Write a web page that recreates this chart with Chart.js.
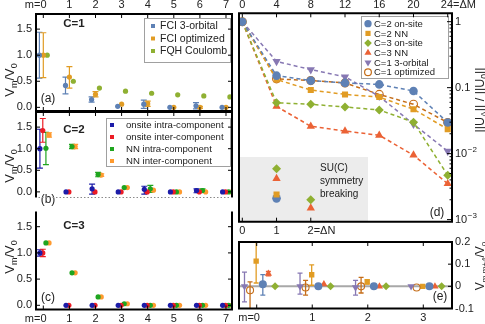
<!DOCTYPE html>
<html><head><meta charset="utf-8">
<script src="https://cdn.jsdelivr.net/npm/chart.js@4/dist/chart.umd.min.js"></script>
<style>
html,body{margin:0;padding:0;background:#fff;}
#wrap{position:relative;width:485px;height:324px;overflow:hidden;background:#fff;}
canvas{position:absolute;left:0;top:0;}
</style></head><body>
<div id="wrap">
<canvas id="cA" width="485" height="324"></canvas>
<canvas id="cB" width="485" height="324"></canvas>
<canvas id="cC" width="485" height="324"></canvas>
<canvas id="cD" width="485" height="324"></canvas>
<canvas id="cE" width="485" height="324"></canvas>
</div>
<script>
const FONT = "'Liberation Sans', Arial, Helvetica, sans-serif";

// ================= DATA =================
// left panels: pseudopotentials V_m/V_0 versus m
const mTicks = [0, 1, 2, 3, 4, 5, 6, 7];
const yTicksLeft = [0, 0.5, 1.0, 1.5];

// (a) C=1
const aFci3Orbital   = [1.00, 0.42, 0.15, 0.02, 0.06, 0.00, 0.03, 0.00];
const aFci3OrbitalLo = [0.56, 0.26, 0.10, null, -0.02, null, -0.03, null];
const aFci3OrbitalHi = [1.44, 0.58, 0.20, null, 0.14, null, 0.09, null];
const aFciOptimized   = [1.00, 0.58, 0.25, 0.06, 0.07, 0.00, 0.00, 0.00];
const aFciOptimizedLo = [0.57, 0.37, 0.20, null, 0.02, null, -0.02, null];
const aFciOptimizedHi = [1.43, 0.78, 0.30, null, 0.12, null, 0.02, null];
const aFqhCoulomb    = [1.00, 0.50, 0.37, 0.31, 0.27, 0.24, 0.22, 0.20];

// (b) C=2
const bOnsiteIntra   = [1.00, 0.00, 0.07, 0.00, 0.06, 0.00, 0.03, 0.00];
const bOnsiteIntraLo = [0.55, null, -0.05, null, -0.05, null, -0.02, null];
const bOnsiteIntraHi = [1.45, null, 0.18, null, 0.13, null, 0.07, null];
const bOnsiteInter   = [1.42, 0.00, 0.00, 0.00, 0.00, 0.00, 0.00, 0.00];
const bOnsiteInterLo = [1.15, null, null, null, null, null, null, null];
const bOnsiteInterHi = [1.70, null, null, null, null, null, null, null];
const bNnIntra   = [1.01, 1.05, 0.40, 0.10, 0.07, 0.00, 0.03, 0.00];
const bNnIntraLo = [0.63, 1.00, 0.35, null, -0.01, null, -0.01, null];
const bNnIntraHi = [1.38, 1.10, 0.45, null, 0.15, null, 0.07, null];
const bNnInter   = [1.32, 1.05, 0.39, 0.10, 0.04, 0.00, 0.00, 0.00];
const bNnInterLo = [1.27, 1.00, 0.36, null, null, null, null, null];
const bNnInterHi = [1.37, 1.10, 0.42, null, null, null, null, null];

// (c) C=3
const cOnsiteIntra   = [1.00, 0.00, 0.00, 0.00, 0.00, 0.00, 0.00, 0.00];
const cOnsiteIntraLo = [0.94, null, null, null, null, null, null, null];
const cOnsiteIntraHi = [1.06, null, null, null, null, null, null, null];
const cOnsiteInter   = [1.00, 0.00, 0.00, 0.00, 0.00, 0.00, 0.00, 0.00];
const cOnsiteInterLo = [0.93, null, null, null, null, null, null, null];
const cOnsiteInterHi = [1.07, null, null, null, null, null, null, null];
const cNnIntra = [1.19, 0.62, 0.16, 0.03, 0.00, 0.00, 0.00, 0.00];
const cNnInter = [1.19, 0.62, 0.16, 0.03, 0.00, 0.00, 0.00, 0.00];

// (d) ||U_Delta|| / ||U_0|| versus Delta M
const dMTicks = [0, 4, 8, 12, 16, 20, 24];
const dYTicks = [0.001, 0.01, 0.1, 1];
const dC2Onsite   = [1, 0.152, 0.128, 0.118, 0.112, 0.089, 0.0296];
const dC2NN       = [1, 0.133, 0.092, 0.079, 0.072, 0.047, 0.0235];
const dC3Onsite   = [1, 0.059, 0.056, 0.051, 0.046, 0.030, 0.0047];
const dC3NN       = [1, 0.052, 0.026, 0.022, 0.019, 0.0095, 0.0035];
const dC1ThreeOrb = [1, 0.25, 0.188, 0.146, 0.074, 0.028, 0.0109];
const dC1Opt      = [1, 0.136, 0.128, 0.118, 0.079, 0.056, 0.0296];
// SU(C) symmetry breaking versus Delta N
const dNTicks = [0, 1, 2];
const dNBreakC3Onsite = [[1, 0.0059], [2, 0.0020]];
const dNBreakC3NN     = [[1, 0.0042], [2, 0.0015]];
const dNBreakC2NN     = [[1, 0.0024]];
const dNBreakC2Onsite = [[1, 0.0021]];

// (e) V_{m,m+4}/V_0
const eTicksX = [0, 1, 2, 3];
const eTicksY = [-0.1, 0, 0.1, 0.2];
const eC1ThreeOrb   = [0.000, 0.000, -0.005, 0.000];
const eC1ThreeOrbLo = [-0.070, -0.035, -0.040, null];
const eC1ThreeOrbHi = [0.064, 0.060, 0.027, null];
const eC1Opt   = [-0.018, -0.005, 0.000, -0.005];
const eC1OptLo = [-0.110, -0.040, -0.030, null];
const eC1OptHi = [0.020, 0.027, 0.040, null];
const eC2NN   = [0.114, 0.052, 0.020, 0.000];
const eC2NNLo = [0.015, 0.005, 0.010, null];
const eC2NNHi = [0.210, 0.097, 0.030, null];
const eC2Onsite   = [0.009, 0.000, 0.000, 0.000];
const eC2OnsiteLo = [-0.040, null, null, null];
const eC2OnsiteHi = [0.053, null, null, null];
const eC3NN   = [0.057, 0.010, 0.000, 0.000];
const eC3NNLo = [0.047, null, null, null];
const eC3NNHi = [0.067, null, null, null];
const eC3Onsite = [0.000, 0.000, 0.000, 0.000];

// ================= STYLE =================
const M = {blue:'#5E81B5', orange:'#E19C24', green:'#8FB032', red:'#EB6235', purple:'#8778B3', dorange:'#C56E1A'};
const P = {blue:'#1c1ca8', red:'#ec1c24', green:'#1fa51f', orange:'#ff9a2e'};
const TXT = '#222';

Chart.defaults.font.family = FONT;
Chart.defaults.font.size = 11;
Chart.defaults.color = TXT;

function base(padding, scales){
  return {responsive:false, maintainAspectRatio:false, animation:false, devicePixelRatio:1, events:[],
    layout:{padding}, plugins:{legend:{display:false}, tooltip:{enabled:false}}, scales};
}
function setTicks(list){ return s => { s.ticks = list.map(v => ({value:v})); }; }

function pts(xs, ys, off){ return ys.map((v,i) => ({x: xs[i] + off, y: v})); }
function ptDs(label, color, xs, vals, lo, hi, off, extra){
  return Object.assign({label, data: pts(xs, vals, off), errLo: lo, errHi: hi,
    borderColor: color, backgroundColor: color, pointBackgroundColor: color, pointBorderColor: color,
    pointRadius: 2.6, pointBorderWidth: 0, showLine: false}, extra || {});
}

// ---------- drawing helpers ----------
function drawErrorBars(chart){
  const ctx = chart.ctx, a = chart.chartArea;
  ctx.save(); ctx.beginPath(); ctx.rect(a.left, a.top, a.right-a.left, a.bottom-a.top); ctx.clip();
  chart.data.datasets.forEach((ds, di) => {
    if (!ds.errLo) return;
    const meta = chart.getDatasetMeta(di);
    const xs = chart.scales[meta.xAxisID], ys = chart.scales[meta.yAxisID];
    ctx.strokeStyle = ds.borderColor; ctx.lineWidth = ds.errWidth || 1.2;
    const cap = ds.errCap || 3;
    ds.data.forEach((p, i) => {
      const lo = ds.errLo[i], hi = ds.errHi[i];
      if (lo == null || hi == null) return;
      const x = xs.getPixelForValue(p.x), y1 = ys.getPixelForValue(lo), y2 = ys.getPixelForValue(hi);
      ctx.beginPath();
      ctx.moveTo(x, y1); ctx.lineTo(x, y2);
      ctx.moveTo(x-cap, y1); ctx.lineTo(x+cap, y1);
      ctx.moveTo(x-cap, y2); ctx.lineTo(x+cap, y2);
      ctx.stroke();
    });
  });
  ctx.restore();
}
function marker(ctx, shape, x, y, r, color, fill){
  ctx.save(); ctx.fillStyle = color; ctx.strokeStyle = color; ctx.lineWidth = 1.2;
  ctx.beginPath();
  if (shape === 'circle') ctx.arc(x, y, r, 0, Math.PI*2);
  else if (shape === 'rect') ctx.rect(x-r*0.71, y-r*0.71, r*1.42, r*1.42);
  else if (shape === 'diamond') { ctx.moveTo(x, y-r); ctx.lineTo(x+r, y); ctx.lineTo(x, y+r); ctx.lineTo(x-r, y); ctx.closePath(); }
  else if (shape === 'tri') { ctx.moveTo(x, y-r); ctx.lineTo(x+r*0.866, y+r*0.5); ctx.lineTo(x-r*0.866, y+r*0.5); ctx.closePath(); }
  else if (shape === 'dtri') { ctx.moveTo(x, y+r); ctx.lineTo(x+r*0.866, y-r*0.5); ctx.lineTo(x-r*0.866, y-r*0.5); ctx.closePath(); }
  if (fill) ctx.fill(); else { ctx.fillStyle = '#fff'; ctx.fill(); ctx.stroke(); }
  ctx.restore();
}
function drawLegend(chart, L){
  const ctx = chart.ctx;
  ctx.save();
  ctx.fillStyle = '#fff'; ctx.strokeStyle = '#a0a0a0'; ctx.lineWidth = 1;
  ctx.fillRect(L.x, L.y, L.w, L.h); ctx.strokeRect(L.x+0.5, L.y+0.5, L.w, L.h);
  chart.data.datasets.slice(0, L.count).forEach((ds, i) => {
    const y = L.y0 + i*L.dy;
    marker(ctx, ds.legendShape || 'rect', L.mx, y, ds.legendR || 2.8, ds.borderColor, ds.legendFill !== false);
    ctx.fillStyle = TXT; ctx.font = L.font; ctx.textBaseline = 'middle'; ctx.textAlign = 'left';
    ctx.fillText(ds.label, L.tx, y + 0.5);
  });
  ctx.restore();
}
function text(ctx, t, x, y, font, align){
  ctx.save(); ctx.font = font; ctx.fillStyle = TXT; ctx.textAlign = align || 'center'; ctx.textBaseline = 'middle';
  ctx.fillText(t, x, y); ctx.restore();
}
function rich(ctx, parts, cx, cy, rot){
  ctx.save(); ctx.translate(cx, cy); if (rot) ctx.rotate(rot);
  let w = 0; parts.forEach(p => { ctx.font = p.f; w += ctx.measureText(p.t).width; });
  let x = -w/2; ctx.textAlign = 'left'; ctx.textBaseline = 'alphabetic'; ctx.fillStyle = TXT;
  parts.forEach(p => { ctx.font = p.f; ctx.fillText(p.t, x, p.dy); x += ctx.measureText(p.t).width; });
  ctx.restore();
}
function edge(ctx, a, side, style){
  ctx.save(); ctx.lineWidth = style === 'dotted' ? 1 : 2; ctx.strokeStyle = style === 'dotted' ? '#8a8a8a' : '#000';
  if (style === 'dotted') ctx.setLineDash([1.5, 2]);
  ctx.beginPath();
  if (side === 'top') { ctx.moveTo(a.left-1, a.top); ctx.lineTo(a.right+1, a.top); }
  if (side === 'bottom') { ctx.moveTo(a.left-1, a.bottom); ctx.lineTo(a.right+1, a.bottom); }
  if (side === 'left') { ctx.moveTo(a.left, a.top); ctx.lineTo(a.left, a.bottom); }
  if (side === 'right') { ctx.moveTo(a.right, a.top); ctx.lineTo(a.right, a.bottom); }
  ctx.stroke(); ctx.restore();
}
function ticksIn(chart, axis, values, side, len){
  const ctx = chart.ctx, a = chart.chartArea, s = chart.scales[axis];
  ctx.save(); ctx.strokeStyle = '#000'; ctx.lineWidth = 1; ctx.beginPath();
  values.forEach(v => {
    const p = s.getPixelForValue(v);
    if (side === 'top') { ctx.moveTo(p, a.top); ctx.lineTo(p, a.top+len); }
    if (side === 'bottom') { ctx.moveTo(p, a.bottom); ctx.lineTo(p, a.bottom-len); }
    if (side === 'left') { ctx.moveTo(a.left, p); ctx.lineTo(a.left+len, p); }
    if (side === 'right') { ctx.moveTo(a.right, p); ctx.lineTo(a.right-len, p); }
  });
  ctx.stroke(); ctx.restore();
}
function deco(before, after){
  return {id:'deco',
    beforeDatasetsDraw(chart){ if (before) before(chart, chart.ctx); drawErrorBars(chart); },
    afterDraw(chart){ if (after) after(chart, chart.ctx); }};
}

const SP5 = '     ', SP7 = '       ';
const F = s => s + 'px ' + FONT;
const VmTitle = [{t:'V', f:F(13), dy:4.5}, {t:'m', f:F(9), dy:7.5}, {t:'/V', f:F(13), dy:4.5}, {t:'0', f:F(9), dy:7.5}];

function leftScales(yMin, yMax, xPos){
  return {
    x: {type:'linear', position: xPos || 'bottom', display: !!xPos, min:-0.28, max:7.23,
        grid:{display:false, drawTicks:false}, border:{display:false},
        ticks:{padding: xPos === 'top' ? 2 : 3, maxRotation:0, autoSkip:false, callback: v => v === 0 ? 'm=0' + SP5 : String(v)},
        afterBuildTicks: setTicks(mTicks), afterFit: s => { s.height = 14; }},
    y: {type:'linear', position:'left', min:yMin, max:yMax,
        grid:{display:false, drawTicks:false}, border:{display:false},
        ticks:{padding:4, autoSkip:false, callback: v => v.toFixed(1)},
        afterBuildTicks: setTicks(yTicksLeft), afterFit: s => { s.width = 36; }}
  };
}
function leftTicks(chart, sides){
  sides.forEach(sd => {
    if (sd === 'top' || sd === 'bottom') ticksIn(chart, 'x', mTicks, sd, 4);
    else ticksIn(chart, 'y', yTicksLeft, sd, 4);
  });
}

// ================= (a) =================
new Chart(document.getElementById('cA'), {
  type:'scatter',
  data:{datasets:[
    ptDs('FCI 3-orbital', M.blue, mTicks, aFci3Orbital, aFci3OrbitalLo, aFci3OrbitalHi, -0.15),
    ptDs('FCI optimized', M.orange, mTicks, aFciOptimized, aFciOptimizedLo, aFciOptimizedHi, 0),
    ptDs('FQH Coulomb', M.green, mTicks, aFqhCoulomb, null, null, 0.15)
  ]},
  options: base({left:0, top:0, right:253, bottom:213}, leftScales(-0.07, 1.79, 'top')),
  plugins:[deco(null, (chart, ctx) => {
    const a = chart.chartArea;
    drawLegend(chart, {x:144, y:18, w:86, h:44, count:3, y0:26, dy:12.5, mx:153, tx:160, font:F(10.5)});
    text(ctx, 'C=1', 74, 24, 'bold ' + F(11.5));
    text(ctx, '(a)', 48, 99, F(12));
    rich(ctx, VmTitle, 9, 80, -Math.PI/2);
    leftTicks(chart, ['top','bottom','left','right']);
    ['top','bottom','left','right'].forEach(s => edge(ctx, a, s, 'solid'));
  })]
});

// ================= (b) =================
const offB = [-0.13, -0.02, 0.1, 0.22];
new Chart(document.getElementById('cB'), {
  type:'scatter',
  data:{datasets:[
    ptDs('onsite intra-component', P.blue, mTicks, bOnsiteIntra, bOnsiteIntraLo, bOnsiteIntraHi, offB[0]),
    ptDs('onsite inter-component', P.red, mTicks, bOnsiteInter, bOnsiteInterLo, bOnsiteInterHi, offB[1]),
    ptDs('NN intra-component', P.green, mTicks, bNnIntra, bNnIntraLo, bNnIntraHi, offB[2]),
    ptDs('NN inter-component', P.orange, mTicks, bNnInter, bNnInterLo, bNnInterHi, offB[3])
  ]},
  options: base({left:0, top:112, right:253, bottom:112.5}, leftScales(-0.13, 1.85, null)),
  plugins:[deco(null, (chart, ctx) => {
    const a = chart.chartArea;
    drawLegend(chart, {x:106, y:118, w:124, h:48, count:4, y0:125, dy:12, mx:112, tx:126, font:F(9.6)});
    text(ctx, 'C=2', 74, 130, 'bold ' + F(11.5));
    text(ctx, '(b)', 48, 200, F(12));
    rich(ctx, VmTitle, 9, 166, -Math.PI/2);
    leftTicks(chart, ['top','left','right']);
    edge(ctx, a, 'left', 'solid'); edge(ctx, a, 'right', 'solid'); edge(ctx, a, 'top', 'solid');
    edge(ctx, a, 'bottom', 'dotted');
  })]
});

// ================= (c) =================
new Chart(document.getElementById('cC'), {
  type:'scatter',
  data:{datasets:[
    ptDs('onsite intra-component', P.blue, mTicks, cOnsiteIntra, cOnsiteIntraLo, cOnsiteIntraHi, offB[0]),
    ptDs('onsite inter-component', P.red, mTicks, cOnsiteInter, cOnsiteInterLo, cOnsiteInterHi, offB[1]),
    ptDs('NN intra-component', P.green, mTicks, cNnIntra, null, null, offB[2]),
    ptDs('NN inter-component', P.orange, mTicks, cNnInter, null, null, offB[3])
  ]},
  options: base({left:0, top:211.5, right:253, bottom:0.5}, leftScales(-0.08, 1.79, 'bottom')),
  plugins:[deco(null, (chart, ctx) => {
    const a = chart.chartArea;
    text(ctx, 'C=3', 74, 226, 'bold ' + F(11.5));
    text(ctx, '(c)', 48, 298, F(12));
    rich(ctx, VmTitle, 9, 257, -Math.PI/2);
    leftTicks(chart, ['bottom','left','right']);
    edge(ctx, a, 'left', 'solid'); edge(ctx, a, 'right', 'solid'); edge(ctx, a, 'bottom', 'solid');
  })]
});

// ================= (d) =================
function lineDs(label, color, vals, shape, r, extra){
  const ps = {circle:'circle', rect:'rect', diamond:'rectRot', tri:'triangle', dtri:'triangle'}[shape];
  return Object.assign({label, data: vals.map((v,i) => ({x: dMTicks[i], y: v})), xAxisID:'xM', yAxisID:'y',
    showLine:true, borderColor:color, backgroundColor:color, borderWidth:1.5, borderDash:[4,3],
    pointStyle: ps, pointRotation: shape === 'dtri' ? 180 : 0, pointRadius: r,
    pointBackgroundColor: color, pointBorderColor: color, pointBorderWidth: 0,
    legendShape: shape, legendR: r*0.85, legendFill: true}, extra || {});
}
function breakDs(label, color, pairs, shape, r){
  const ps = {circle:'circle', rect:'rect', diamond:'rectRot', tri:'triangle'}[shape];
  return {label, data: pairs.map(p => ({x:p[0], y:p[1]})), xAxisID:'xN', yAxisID:'y', showLine:false,
    borderColor:color, backgroundColor:color, pointStyle:ps, pointRadius:r,
    pointBackgroundColor:color, pointBorderColor:color, pointBorderWidth:0};
}
new Chart(document.getElementById('cD'), {
  type:'scatter',
  data:{datasets:[
    lineDs('C=2 on-site', M.blue, dC2Onsite, 'circle', 4.3),
    lineDs('C=2 NN', M.orange, dC2NN, 'rect', 4.3),
    lineDs('C=3 on-site', M.green, dC3Onsite, 'diamond', 4.5),
    lineDs('C=3 NN', M.red, dC3NN, 'tri', 4.8),
    lineDs('C=1 3-orbital', M.purple, dC1ThreeOrb, 'dtri', 4.8),
    lineDs('C=1 optimized', M.dorange, dC1Opt, 'circle', 4, {pointBackgroundColor:'rgba(255,255,255,0)', pointBorderWidth:1.1, legendFill:false}),
    breakDs('C=3 on-site SU(C) breaking', M.green, dNBreakC3Onsite, 'diamond', 4.5),
    breakDs('C=3 NN SU(C) breaking', M.red, dNBreakC3NN, 'tri', 4.8),
    breakDs('C=2 NN SU(C) breaking', M.orange, dNBreakC2NN, 'rect', 4.3),
    breakDs('C=2 on-site SU(C) breaking', M.blue, dNBreakC2Onsite, 'circle', 4.3)
  ]},
  options: base({left:239, top:0, right:0, bottom:88.3}, {
    xM: {type:'linear', position:'top', min:-0.386, max:24.5, grid:{display:false, drawTicks:false}, border:{display:false},
         ticks:{padding:2, maxRotation:0, autoSkip:false, callback: v => v === 24 ? SP7 + '24=ΔM' : String(v)},
         afterBuildTicks: setTicks(dMTicks), afterFit: s => { s.height = 13.3; }},
    xN: {type:'linear', position:'bottom', min:-0.386/4, max:24.5/4, grid:{display:false, drawTicks:false}, border:{display:false},
         ticks:{padding:3, maxRotation:0, autoSkip:false, callback: v => v === 2 ? SP7 + '2=ΔN' : String(v)},
         afterBuildTicks: setTicks(dNTicks), afterFit: s => { s.height = 14; }},
    y: {type:'logarithmic', position:'right', min:0.00093, max:1.34, grid:{display:false, drawTicks:false}, border:{display:false},
        ticks:{padding:3, autoSkip:false, callback: v => v >= 0.1 ? String(v) : '10'},
        afterBuildTicks: setTicks(dYTicks), afterFit: s => { s.width = 33; }}
  }),
  plugins:[deco((chart, ctx) => {
    const a = chart.chartArea, xN = chart.scales.xN, y = chart.scales.y;
    const x1 = xN.getPixelForValue(3.67), y1 = y.getPixelForValue(0.0089);
    ctx.save(); ctx.fillStyle = '#ececec'; ctx.fillRect(a.left, y1, x1 - a.left, a.bottom - y1); ctx.restore();
  }, (chart, ctx) => {
    const a = chart.chartArea, y = chart.scales.y;
    drawLegend(chart, {x:361, y:16, w:87, h:62, count:6, y0:23.7, dy:9.7, mx:368, tx:374, font:F(9.5)});
    text(ctx, 'SU(C)', 320, 168, F(10), 'left');
    text(ctx, 'symmetry', 320, 181, F(10), 'left');
    text(ctx, 'breaking', 320, 194, F(10), 'left');
    text(ctx, '(d)', 437, 213, F(12));
    // superscripts of 10^-2, 10^-3
    ctx.save(); ctx.font = F(11); const w10 = ctx.measureText('10').width; ctx.restore();
    [[0.01, '−2'], [0.001, '−3']].forEach(([v, s]) => {
      text(ctx, s, a.right + 3 + w10 + 0.5, y.getPixelForValue(v) - 4, F(8), 'left');
    });
    rich(ctx, [{t:'||U', f:F(12.5), dy:4.5}, {t:'Δ', f:F(8.5), dy:7.5}, {t:'|| / ||U', f:F(12.5), dy:4.5}, {t:'0', f:F(8.5), dy:7.5}, {t:'||', f:F(12.5), dy:4.5}], 479, 100, -Math.PI/2);
    ticksIn(chart, 'xM', dMTicks, 'top', 4);
    ticksIn(chart, 'xN', dNTicks, 'bottom', 4);
    ticksIn(chart, 'y', dYTicks, 'right', 5);
    const minors = [];
    [0.001, 0.01, 0.1, 1].forEach(d => { for (let k = 2; k <= 9; k++) { const v = d*k; if (v < 1.34) minors.push(v); } });
    ticksIn(chart, 'y', minors, 'right', 2.5);
    ['top','bottom','left','right'].forEach(s => edge(ctx, a, s, 'solid'));
  })]
});

// ================= (e) =================
function eDs(label, color, vals, lo, hi, off, shape, r, extra){
  const ps = {circle:'circle', rect:'rect', diamond:'rectRot', tri:'triangle', dtri:'triangle'}[shape];
  return Object.assign({label, data: pts(eTicksX, vals, off), errLo: lo, errHi: hi, showLine:false,
    borderColor:color, backgroundColor:color, pointStyle:ps, pointRotation: shape === 'dtri' ? 180 : 0, pointRadius:r,
    pointBackgroundColor:color, pointBorderColor:color, pointBorderWidth:0, errCap:2.5, errWidth:1.3}, extra || {});
}
new Chart(document.getElementById('cE'), {
  type:'scatter',
  data:{datasets:[
    eDs('C=1 3-orbital', M.purple, eC1ThreeOrb, eC1ThreeOrbLo, eC1ThreeOrbHi, -0.22, 'dtri', 4.2),
    eDs('C=1 optimized', M.dorange, eC1Opt, eC1OptLo, eC1OptHi, -0.12, 'circle', 3.5, {pointBackgroundColor:'rgba(255,255,255,0)', pointBorderWidth:1.1}),
    eDs('C=2 NN', M.orange, eC2NN, eC2NNLo, eC2NNHi, -0.01, 'rect', 3.8),
    eDs('C=2 on-site', M.blue, eC2Onsite, eC2OnsiteLo, eC2OnsiteHi, 0.11, 'circle', 4),
    eDs('C=3 NN', M.red, eC3NN, eC3NNLo, eC3NNHi, 0.21, 'tri', 4.2),
    eDs('C=3 on-site', M.green, eC3Onsite, null, null, 0.33, 'diamond', 4)
  ]},
  options: base({left:239, top:242, right:0, bottom:0}, {
    x: {type:'linear', position:'bottom', min:-0.319, max:3.517, grid:{display:false, drawTicks:false}, border:{display:false},
        ticks:{padding:3, maxRotation:0, autoSkip:false, callback: v => v === 0 ? 'm=0' + SP5 : String(v)},
        afterBuildTicks: setTicks(eTicksX), afterFit: s => { s.height = 15.5; }},
    y: {type:'linear', position:'right', min:-0.1, max:0.2, grid:{display:false, drawTicks:false}, border:{display:false},
        ticks:{padding:3, autoSkip:false, callback: v => Math.abs(v) < 1e-9 ? '0' : v.toFixed(1)},
        afterBuildTicks: setTicks(eTicksY), afterFit: s => { s.width = 33; }}
  }),
  plugins:[deco((chart, ctx) => {
    const a = chart.chartArea, y0 = chart.scales.y.getPixelForValue(0);
    ctx.save(); ctx.strokeStyle = '#a8a8a8'; ctx.lineWidth = 2; ctx.beginPath(); ctx.moveTo(a.left, y0); ctx.lineTo(a.right, y0); ctx.stroke(); ctx.restore();
  }, (chart, ctx) => {
    const a = chart.chartArea;
    text(ctx, '(e)', 440, 297, F(12));
    rich(ctx, [{t:'V', f:F(12), dy:4.5}, {t:'m,m+4', f:F(8), dy:7.5}, {t:'/V', f:F(12), dy:4.5}, {t:'0', f:F(8), dy:7.5}], 479.5, 266, -Math.PI/2);
    ticksIn(chart, 'x', eTicksX, 'bottom', 4);
    ticksIn(chart, 'x', eTicksX, 'top', 4);
    ticksIn(chart, 'y', eTicksY, 'right', 4);
    ['top','bottom','left','right'].forEach(s => edge(ctx, a, s, 'solid'));
  })]
});
</script>
</body></html>
